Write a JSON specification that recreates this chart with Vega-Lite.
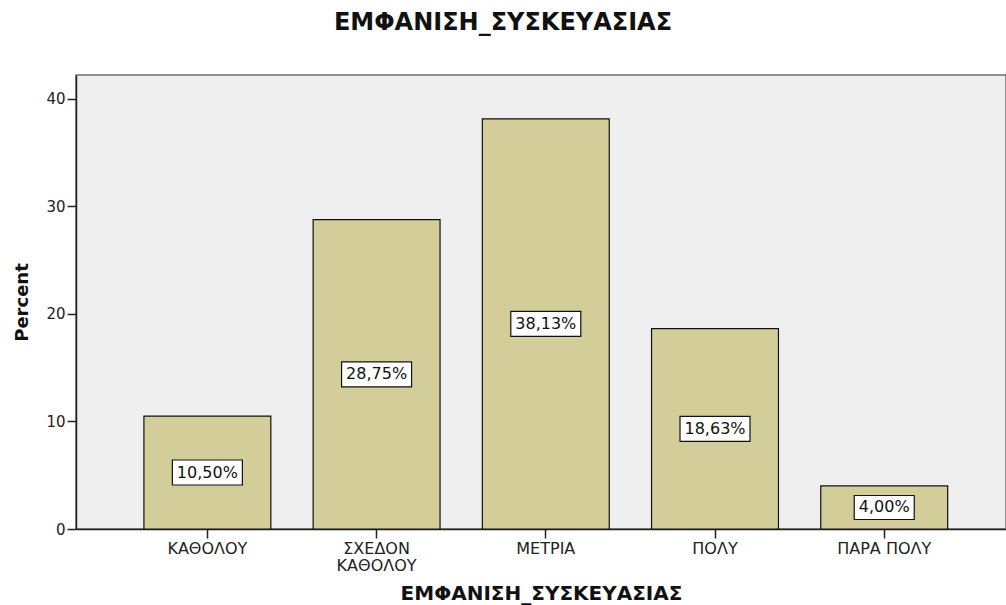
{
  "$schema": "https://vega.github.io/schema/vega-lite/v6.json",
  "autosize": "none",
  "padding": {"left": 76, "top": 75, "right": 0, "bottom": 76},
  "width": 930,
  "height": 454,
  "background": "white",
  "title": {"text": "ΕΜΦΑΝΙΣΗ_ΣΥΣΚΕΥΑΣΙΑΣ", "font": "DejaVu Sans", "fontSize": 24, "fontWeight": "bold", "color": "#111", "anchor": "middle", "dx": -38, "offset": 21, "baseline": "alphabetic"},
  "config": {
    "view": {"fill": "#efefef", "stroke": "#707070", "strokeWidth": 1.5},
    "axis": {"labelFont": "DejaVu Sans", "titleFont": "DejaVu Sans", "labelFontSize": 16, "labelColor": "#222", "titleColor": "#111", "titleFontWeight": "bold", "domainColor": "#222", "domainWidth": 1.5, "tickColor": "#222", "tickWidth": 1.5, "tickSize": 9, "grid": false}
  },
  "data": {"values": [
    {"cat": "ΚΑΘΟΛΟΥ", "pct": 10.50},
    {"cat": "ΣΧΕΔΟΝ ΚΑΘΟΛΟΥ", "pct": 28.75},
    {"cat": "ΜΕΤΡΙΑ", "pct": 38.13},
    {"cat": "ΠΟΛΥ", "pct": 18.63},
    {"cat": "ΠΑΡΑ ΠΟΛΥ", "pct": 4.00}
  ]},
  "encoding": {
    "x": {"field": "cat", "type": "nominal", "sort": null,
      "scale": {"paddingInner": 0.25, "paddingOuter": 0.373, "align": 0.538},
      "axis": {"title": "ΕΜΦΑΝΙΣΗ_ΣΥΣΚΕΥΑΣΙΑΣ", "titleFontSize": 20, "titlePadding": 10, "labelAngle": 0, "labelPadding": 2, "labelLineHeight": 17, "labelFontSize": 16,
        "labelExpr": "datum.label == 'ΣΧΕΔΟΝ ΚΑΘΟΛΟΥ' ? ['ΣΧΕΔΟΝ', 'ΚΑΘΟΛΟΥ'] : datum.label"}}
  },
  "layer": [
    {
      "mark": {"type": "bar", "fill": "#d3ce99", "stroke": "#111", "strokeWidth": 1.2},
      "encoding": {
        "y": {"field": "pct", "type": "quantitative", "scale": {"domain": [0, 42.2], "nice": false},
          "axis": {"title": "Percent", "titleFontSize": 18, "titlePadding": 14, "values": [0, 10, 20, 30, 40], "labelPadding": 2, "labelFontSize": 15}}
      }
    },
    {
      "transform": [{"calculate": "datum.pct / 2", "as": "mid"}],
      "mark": {"type": "point", "filled": true, "fill": "white", "stroke": "#111", "strokeWidth": 1.2, "opacity": 1},
      "encoding": {
        "y": {"field": "mid", "type": "quantitative"},
        "shape": {"condition": {"test": "datum.pct < 10", "value": "M-1,-0.4H1V0.4H-1Z"}, "value": "M-1,-0.357H1V0.357H-1Z"},
        "size": {"condition": {"test": "datum.pct < 10", "value": 3600}, "value": 4900}
      }
    },
    {
      "transform": [
        {"calculate": "datum.pct / 2", "as": "mid"},
        {"calculate": "replace(format(datum.pct, '.2f'), '.', ',') + '%'", "as": "lab"}
      ],
      "mark": {"type": "text", "font": "DejaVu Sans", "fontSize": 16, "color": "#111", "baseline": "middle", "align": "center"},
      "encoding": {
        "y": {"field": "mid", "type": "quantitative"},
        "text": {"field": "lab"}
      }
    }
  ]
}
